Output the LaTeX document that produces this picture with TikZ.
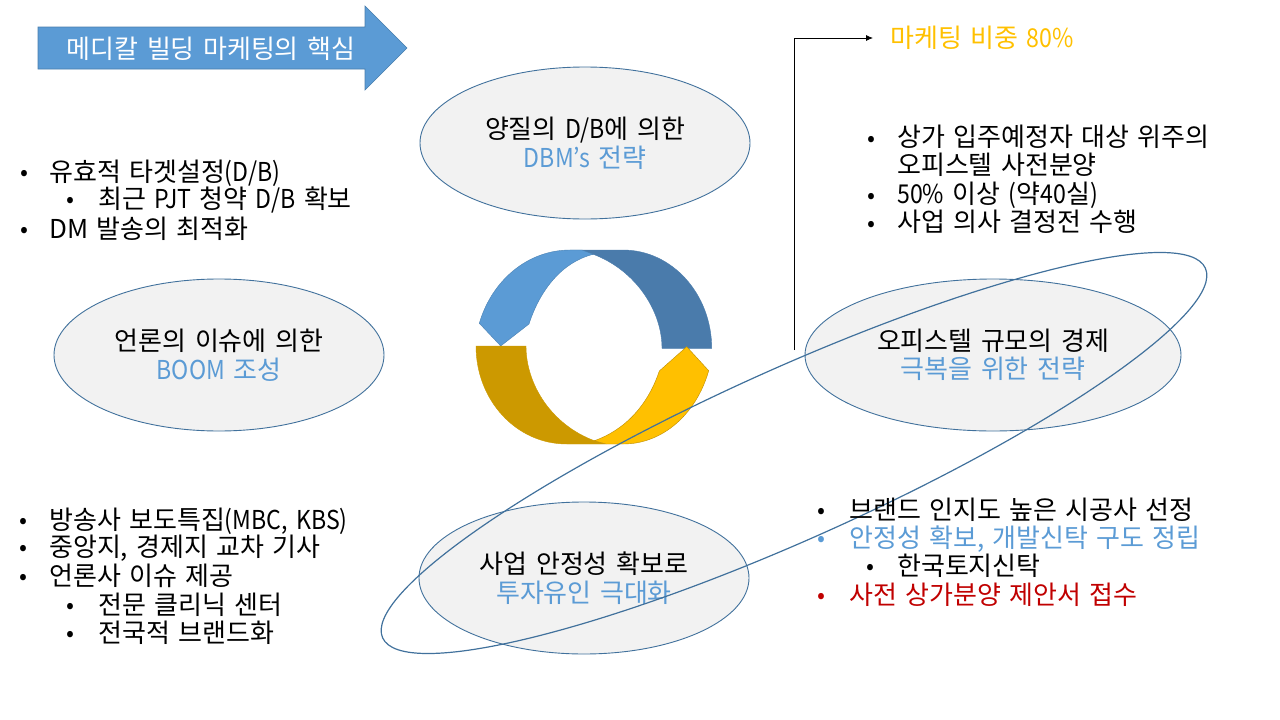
\documentclass[tikz,border=0pt]{standalone}
\usepackage{fontspec}
\setmainfont[WordSpace=1.43]{Noto Sans CJK KR}
\newfontfamily\latfont[WordSpace=1.6,FakeStretch=0.89]{Noto Sans CJK KR}
\usetikzlibrary{shapes.geometric,arrows.meta}
\definecolor{bluetxt}{HTML}{5B9BD5}
\definecolor{edgeblue}{HTML}{41719C}
\definecolor{ovalfill}{HTML}{F2F2F2}
\definecolor{darkblue}{HTML}{4A7BAB}
\definecolor{darkgold}{HTML}{CC9900}
\definecolor{lightgold}{HTML}{FFC000}
\definecolor{goldedge}{HTML}{BC8C00}
\definecolor{redtxt}{HTML}{C00000}
\newcommand{\lat}[1]{{\latfont #1}}
\tikzset{
  x=1pt,y=-1pt,
  every node/.style={font=\fontsize{26}{29}\selectfont,inner sep=0pt},
  oval/.style={ellipse,draw=edgeblue,fill=ovalfill,line width=0.9pt,align=center,minimum height=152pt},
  item/.style={anchor=base west,yshift=-1.5pt},
  dot/.style={anchor=base,font=\fontsize{23.5}{29}\selectfont},
}
\begin{document}
\begin{tikzpicture}
\useasboundingbox (0,0) rectangle (1280,720);
% header arrow
\fill[bluetxt,draw=edgeblue!70!bluetxt,line width=0.6pt] (38,27) -- (365,27) -- (365,6) -- (407,48) -- (365,90) -- (365,69) -- (38,69) -- cycle;
\node[text=white] (head) at (211,48.5) {메디칼 빌딩 마케팅의 핵심};
% ovals
\node[oval,minimum width=330pt] (dbm) at (585,143) {양질의 \lat{D/B}에 의한\\[-0.5pt]\textcolor{bluetxt}{\lat{DBM’s} 전략}};
\node[oval,minimum width=330pt] (boom) at (219,355) {언론의 이슈에 의한\\[-0.5pt]\textcolor{bluetxt}{\lat{BOOM} 조성}};
\node[oval,minimum width=376pt] (scale) at (993,355) {오피스텔 규모의 경제\\[-0.5pt]\textcolor{bluetxt}{극복을 위한 전략}};
\node[oval,minimum width=330pt] (safe) at (584,578) {사업 안정성 확보로\\[-0.5pt]\textcolor{bluetxt}{투자유인 극대화}};
% cycle arrows
\filldraw[fill=darkblue,draw=darkblue,line width=0.4pt] (570,250) -- (623,250) .. controls (672,250) and (711.7,294) .. (711.7,348.3) -- (662,348.3) .. controls (662,310) and (635,270) .. (593.3,254.3) -- cycle;
\filldraw[fill=bluetxt,draw=edgeblue!60!bluetxt,line width=0.4pt] (479.3,323.3) .. controls (492,280) and (528,250) .. (570,250) -- (582,250) -- (593.3,254.3) .. controls (562,262) and (540,290) .. (529,324) -- (500.7,346) -- cycle;
\filldraw[fill=darkgold,draw=darkgold,line width=0.4pt] (476,346) -- (526,346) .. controls (526,385) and (552,425) .. (594.3,440.7) -- (605,444) -- (566.7,444) .. controls (516,444) and (476,400) .. (476,346) -- cycle;
\filldraw[fill=lightgold,draw=goldedge,line width=0.4pt] (686.7,346.7) -- (708.7,370.7) .. controls (696,415) and (662,444) .. (623.3,444) -- (606,444) -- (594.3,440.7) .. controls (625,430) and (648,405) .. (659.3,371) -- cycle;
% tilted ring
\node[ellipse,draw=edgeblue,line width=1.2pt,minimum width=902pt,minimum height=170pt,rotate=24.2] (ring) at (794,453) {};
% connector
\coordinate (cstart) at (794,350);
\node[text=lightgold,anchor=base west] (share) at (890,47.5) {마케팅 비중 \lat{80\%}};
\coordinate (cend) at (873,38);
\draw[-{Latex[length=7pt,width=6pt]},line width=0.8pt] (cstart) -- (cstart |- cend) -- (cend);
% left top list
\node[dot] (a1) at (24,180) {•}; \node[item] (a1t) at (49,180) {유효적 타겟설정\lat{(D/B)}};
\node[dot] (a2) at (70,207) {•}; \node[item] (a2t) at (98,207) {최근 \lat{PJT} 청약 \lat{D/B} 확보};
\node[dot] (a3) at (24,237) {•}; \node[item] (a3t) at (49,237) {DM 발송의 최적화};
% left bottom list
\node[dot] (b1) at (23,528) {•}; \node[item] (b1t) at (49,528) {방송사 보도특집\lat{(MBC, KBS)}};
\node[dot] (b2) at (23,555) {•}; \node[item] (b2t) at (49,555) {중앙지, 경제지 교차 기사};
\node[dot] (b3) at (23,584) {•}; \node[item] (b3t) at (49,584) {언론사 이슈 제공};
\node[dot] (b4) at (70,613) {•}; \node[item] (b4t) at (98,613) {전문 클리닉 센터};
\node[dot] (b5) at (70,641) {•}; \node[item] (b5t) at (98,641) {전국적 브랜드화};
% right top list
\node[dot] (c1) at (871,146) {•}; \node[item] (c1t) at (897,145) {상가 입주예정자 대상 위주의};
\node[item] (c1u) at (897,173) {오피스텔 사전분양};
\node[dot] (c2) at (871,203) {•}; \node[item] (c2t) at (897,202) {\lat{50\%} 이상 \lat{(}약\lat{40}실\lat{)}};
\node[dot] (c3) at (871,231) {•}; \node[item] (c3t) at (897,230) {사업 의사 결정전 수행};
% right bottom list
\node[dot] (d1) at (821,518) {•}; \node[item] (d1t) at (849,518) {브랜드 인지도 높은 시공사 선정};
\node[dot,text=bluetxt] (d2) at (821,546) {•}; \node[item,text=bluetxt] (d2t) at (849,546) {안정성 확보, 개발신탁 구도 정립};
\node[dot] (d3) at (870,574) {•}; \node[item] (d3t) at (897,574) {한국토지신탁};
\node[dot,text=redtxt] (d4) at (821,603) {•}; \node[item,text=redtxt] (d4t) at (849,603) {사전 상가분양 제안서 접수};
\end{tikzpicture}
\end{document}
